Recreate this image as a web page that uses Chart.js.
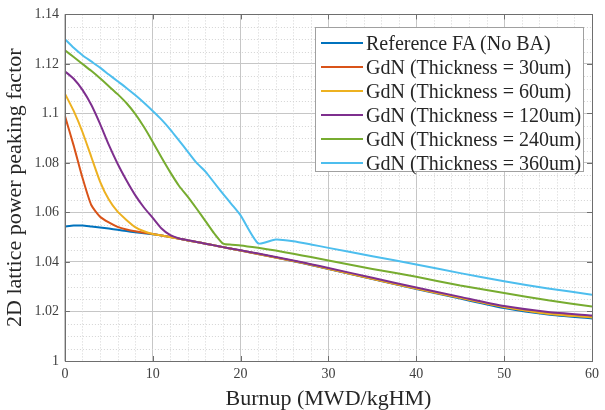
<!DOCTYPE html>
<html>
<head>
<meta charset="utf-8">
<script src="https://cdn.jsdelivr.net/npm/chart.js@4.4.1/dist/chart.umd.min.js"></script>
<style>
  html, body { margin: 0; padding: 0; background: #fff; }
  #wrap { position: relative; width: 605px; height: 410px; }
  #legend {
    position: absolute; left: 315px; top: 27px; width: 269px; height: 145px;
    background: #fff; border: 1px solid #a0a0a0; box-sizing: border-box;
    font-family: "Liberation Serif", "Times New Roman", serif; font-size: 20px; color: #262626;
    padding-top: 3px;
  }
  .row { height: 24px; line-height: 24px; display: flex; align-items: center; white-space: nowrap; }
  .swatch { width: 42px; height: 2px; margin: 0 3px 0 5px; }
</style>
</head>
<body>
<div id="wrap">
  <canvas id="chart" width="605" height="410"></canvas>
  <div id="legend"></div>
</div>
<script>
/* =========================
   DATA
========================= */
const burnup = [0, 1, 2, 3, 4, 5, 6, 7, 8, 9, 10, 11, 12, 13, 14, 15, 16, 17, 18, 19, 20,
  22, 24, 26, 28, 30, 35, 40, 45, 50, 55, 60];

const refFA = [1.0543, 1.0547, 1.0547, 1.0543, 1.0539, 1.0535, 1.0530, 1.0525, 1.0520, 1.0516, 1.0512,
  1.0507, 1.0501, 1.0494, 1.0487, 1.0481, 1.0474, 1.0467, 1.0460, 1.0453, 1.0446,
  1.0432, 1.0418, 1.0403, 1.0388, 1.0372, 1.0331, 1.0291, 1.0252, 1.0214, 1.0188, 1.0172];

const gdn30 = [1.0990, 1.0870, 1.0740, 1.0630, 1.0583, 1.0560, 1.0542, 1.0531, 1.0524, 1.0518, 1.0513,
  1.0507, 1.0501, 1.0494, 1.0487, 1.0481, 1.0474, 1.0467, 1.0460, 1.0453, 1.0446,
  1.0432, 1.0418, 1.0404, 1.0389, 1.0373, 1.0332, 1.0293, 1.0255, 1.0218, 1.0192, 1.0177];

const gdn60 = [1.1080, 1.1010, 1.0925, 1.0825, 1.0725, 1.0652, 1.0603, 1.0570, 1.0541, 1.0524, 1.0513,
  1.0507, 1.0500, 1.0494, 1.0487, 1.0481, 1.0474, 1.0467, 1.0460, 1.0453, 1.0446,
  1.0432, 1.0418, 1.0404, 1.0389, 1.0373, 1.0332, 1.0293, 1.0255, 1.0218, 1.0191, 1.0176];

const gdn120 = [1.1170, 1.1140, 1.1095, 1.1035, 1.0958, 1.0873, 1.0797, 1.0730, 1.0670, 1.0620, 1.0578,
  1.0535, 1.0508, 1.0495, 1.0488, 1.0481, 1.0474, 1.0467, 1.0460, 1.0453, 1.0447,
  1.0434, 1.0420, 1.0406, 1.0391, 1.0376, 1.0336, 1.0297, 1.0259, 1.0222, 1.0198, 1.0184];

const gdn240 = [1.1255, 1.1228, 1.1200, 1.1172, 1.1142, 1.1110, 1.1078, 1.1042, 1.0998, 1.0945, 1.0885,
  1.0822, 1.0762, 1.0707, 1.0663, 1.0615, 1.0565, 1.0515, 1.0474, 1.0470, 1.0467,
  1.0457, 1.0446, 1.0433, 1.0420, 1.0406, 1.0372, 1.0340, 1.0305, 1.0275, 1.0245, 1.0220];

const gdn360 = [1.1300, 1.1265, 1.1235, 1.1210, 1.1185, 1.1157, 1.1130, 1.1103, 1.1074, 1.1043, 1.1010,
  1.0975, 1.0935, 1.0890, 1.0845, 1.0800, 1.0765, 1.0720, 1.0675, 1.0632, 1.0588,
  1.0475, 1.0491, 1.0484, 1.0471, 1.0457, 1.0423, 1.0390, 1.0355, 1.0322, 1.0293, 1.0268];

const seriesNames = [
  "Reference FA (No BA)",
  "GdN (Thickness = 30um)",
  "GdN (Thickness = 60um)",
  "GdN (Thickness = 120um)",
  "GdN (Thickness = 240um)",
  "GdN (Thickness = 360um)"
];
const seriesValues = [refFA, gdn30, gdn60, gdn120, gdn240, gdn360];
const seriesColors = ["#0072BD", "#D95319", "#EDB120", "#7E2F8E", "#77AC30", "#4DBEEE"];

const xMajor = 10, xMinor = 2;
const yMajor = 0.02, yMinor = 0.005;

const FONT = '"Liberation Serif", "Times New Roman", serif';

/* =========================
   MINOR GRID + BOX
========================= */
const matlabAxes = {
  id: "matlabAxes",
  beforeDatasetsDraw(chart) {
    const { ctx, chartArea: a, scales: { x, y } } = chart;
    ctx.save();
    ctx.strokeStyle = "#d4d4d4";
    ctx.lineWidth = 1;
    ctx.setLineDash([1, 2]);
    for (let v = x.min + xMinor; v < x.max; v += xMinor) {
      if (Math.abs(v / xMajor - Math.round(v / xMajor)) < 1e-6) continue;
      const px = Math.round(x.getPixelForValue(v)) + 0.5;
      ctx.beginPath(); ctx.moveTo(px, a.top); ctx.lineTo(px, a.bottom); ctx.stroke();
    }
    for (let i = 1; i * yMinor < y.max - y.min - 1e-9; i++) {
      if (i % Math.round(yMajor / yMinor) === 0) continue;
      const py = Math.round(y.getPixelForValue(y.min + i * yMinor)) + 0.5;
      ctx.beginPath(); ctx.moveTo(a.left, py); ctx.lineTo(a.right, py); ctx.stroke();
    }
    ctx.restore();
  },
  afterDatasetsDraw(chart) {
    const { ctx, chartArea: a, scales: { x, y } } = chart;
    ctx.save();
    ctx.strokeStyle = "#6e6e6e";
    ctx.lineWidth = 1;
    ctx.strokeRect(Math.round(a.left) + 0.5, Math.round(a.top) + 0.5,
      Math.round(a.right - a.left), Math.round(a.bottom - a.top));
    // inward tick marks
    ctx.beginPath();
    x.ticks.forEach(t => {
      const px = Math.round(x.getPixelForValue(t.value)) + 0.5;
      ctx.moveTo(px, a.bottom); ctx.lineTo(px, a.bottom - 5);
      ctx.moveTo(px, a.top); ctx.lineTo(px, a.top + 5);
    });
    y.ticks.forEach(t => {
      const py = Math.round(y.getPixelForValue(t.value)) + 0.5;
      ctx.moveTo(a.left, py); ctx.lineTo(a.left + 5, py);
      ctx.moveTo(a.right, py); ctx.lineTo(a.right - 5, py);
    });
    ctx.stroke();
    ctx.restore();
  }
};

/* =========================
   CHART
========================= */
const datasets = seriesValues.map((vals, i) => ({
  label: seriesNames[i],
  data: burnup.map((b, k) => ({ x: b, y: vals[k] })),
  borderColor: seriesColors[i],
  backgroundColor: seriesColors[i],
  borderWidth: 2,
  pointRadius: 0,
  tension: 0.2,
  order: seriesValues.length - i
}));

const chart = new Chart(document.getElementById("chart"), {
  type: "line",
  data: { datasets },
  options: {
    responsive: false,
    animation: false,
    layout: { padding: { top: 8, right: 0, left: 0, bottom: 0 } },
    plugins: { legend: { display: false }, tooltip: { enabled: false } },
    scales: {
      x: {
        type: "linear", min: 0, max: 60,
        ticks: { stepSize: xMajor, color: "#404040", font: { family: FONT, size: 14, lineHeight: 1 }, padding: 6 },
        grid: { color: "#c6c6c6", drawTicks: false },
        border: { display: false },
        title: { display: true, text: "Burnup (MWD/kgHM)", color: "#262626",
          font: { family: FONT, size: 22, lineHeight: 1 }, padding: { top: 1, bottom: 0 } }
      },
      y: {
        type: "linear", min: 1, max: 1.14,
        ticks: { stepSize: yMajor, color: "#404040", font: { family: FONT, size: 14 }, padding: 6,
          callback: v => String(parseFloat(v.toFixed(2))) },
        grid: { color: "#c6c6c6", drawTicks: false },
        border: { display: false },
        title: { display: true, text: "2D lattice power peaking factor", color: "#262626",
          font: { family: FONT, size: 22 }, padding: { top: 2, bottom: 0 } }
      }
    }
  },
  plugins: [matlabAxes]
});

/* =========================
   LEGEND
========================= */
const legendBox = document.getElementById("legend");
chart.data.datasets.forEach(ds => {
  legendBox.innerHTML += `
    <div class="row"><span class="swatch" style="background:${ds.borderColor}"></span>${ds.label}</div>
  `;
});
</script>
</body>
</html>
